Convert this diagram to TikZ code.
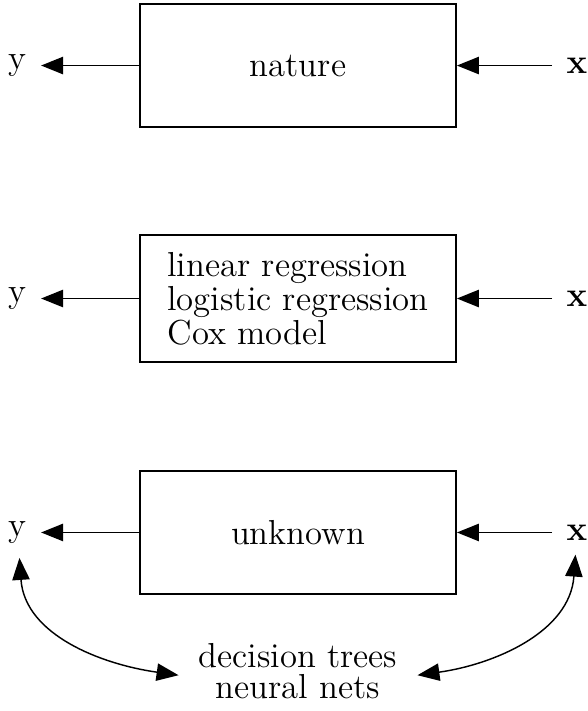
\documentclass[tikz,border=0pt]{standalone}
\usetikzlibrary{arrows.meta}

\begin{document}
\begin{tikzpicture}[>={Triangle[length=7.6pt, width=6pt]}, line width=0.5pt,
    every node/.style={font=\large},
    scatola/.style={draw, line width=0.7pt, minimum width=3.84cm, inner sep=0pt},
    etichetta/.style={inner sep=0pt, outer sep=5pt}]

    % Area del disegno
    \useasboundingbox (0,0) rectangle (7.15,-8.646);

    % Centri delle tre righe
    \coordinate (C1) at (3.624, -0.797);
    \coordinate (C2) at (3.624, -3.63);
    \coordinate (C3) at (3.624, -6.475);

    % --- SCATOLE ---
    \node[scatola, minimum height=1.496cm] (natura) at (C1) {nature};
    \node[scatola, minimum height=1.544cm, align=left] (modelli) at (C2)
        {linear regression\\[-2.2pt] logistic regression\\[-2.2pt] Cox model};
    \node[scatola, minimum height=1.496cm] (ignoto) at (C3) {unknown};

    % --- ETICHETTE y (uscita) e x (ingresso) ---
    \foreach \riga/\yy in {1/-0.797, 2/-3.63, 3/-6.475} {
        \node[etichetta] (y\riga) at (0.215, \yy) {y};
        \node[etichetta] (x\riga) at (7.016, \yy) {$\mathbf{x}$};
    }

    % --- FRECCE ORIZZONTALI ---
    \foreach \scat/\riga in {natura/1, modelli/2, ignoto/3} {
        \draw[->] (\scat.west) -- (y\riga);
        \draw[->] (x\riga) -- (\scat.east);
    }

    % --- METODI IN BASSO E FRECCE CURVE ---
    \node[align=center, inner sep=0pt, outer sep=7pt] (metodi) at (3.624, -8.16)
        {decision trees\\[-3.3pt] neural nets};
    \draw[<->] (y3) to[out=-86, in=172] (metodi.182);
    \draw[<->] (x3) to[out=-94, in=8] (metodi.-2);

\end{tikzpicture}
\end{document}
